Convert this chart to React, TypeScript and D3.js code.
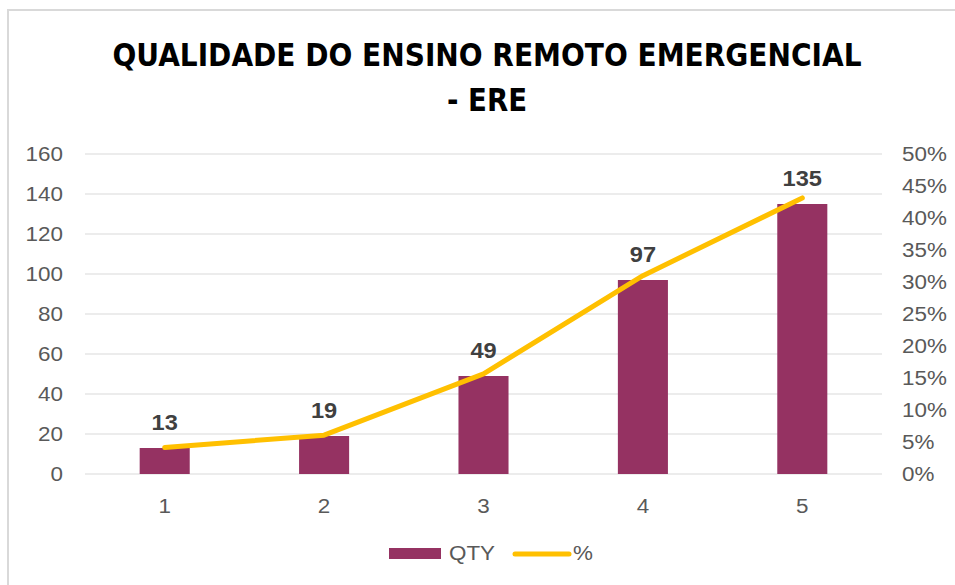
import { useMemo } from "react";
import * as d3 from "d3";

const categories = ["1", "2", "3", "4", "5"];
const qty = [13, 19, 49, 97, 135];
const pct = [0.0415, 0.0607, 0.1565, 0.3099, 0.4313];
const leftTicks = [0, 20, 40, 60, 80, 100, 120, 140, 160];
const rightTicks = [0, 0.05, 0.1, 0.15, 0.2, 0.25, 0.3, 0.35, 0.4, 0.45, 0.5];

const BAR = "#953262";
const LINE = "#FFC000";
const TEXT = "#595959";

// text stretched a bit horizontally, like the original picture
function SText(props: {
  x: number;
  y: number;
  sx?: number;
  anchor?: string;
  size: number;
  weight?: string;
  fill: string;
  children: any;
}) {
  const { x, y, sx = 1.15, anchor = "start", size, weight = "normal", fill, children } = props;
  return (
    <text
      transform={`translate(${x},${y}) scale(${sx},1)`}
      textAnchor={anchor}
      fontSize={size}
      fontWeight={weight}
      fill={fill}
    >
      {children}
    </text>
  );
}

export default function App() {
  const width = 955;
  const height = 585;
  const plot = { left: 85, right: 882, top: 154, bottom: 474 };

  const x = useMemo(
    () => d3.scaleBand().domain(categories).range([plot.left, plot.right]).paddingInner(0.686).paddingOuter(0.343),
    []
  );
  const y = useMemo(() => d3.scaleLinear().domain([0, 160]).range([plot.bottom, plot.top]), []);
  const y2 = useMemo(() => d3.scaleLinear().domain([0, 0.5]).range([plot.bottom, plot.top]), []);

  const cx = (c: string) => (x(c) as number) + x.bandwidth() / 2;

  const line = d3
    .line<number>()
    .x((_, i) => cx(categories[i]))
    .y((d) => y2(d));

  const font = "'Liberation Sans', Arial, sans-serif";
  const titleFont = "'DejaVu Sans Condensed', 'Liberation Sans Narrow', sans-serif";

  return (
    <svg
      width={width}
      height={height}
      style={{ position: "absolute", left: 0, top: 0, background: "#fff" }}
      fontFamily={font}
    >
      <rect x={8} y={10} width={width} height={height} fill="#fff" stroke="#d9d9d9" strokeWidth={2} />

      <text
        x={487}
        y={66}
        textAnchor="middle"
        fontFamily={titleFont}
        fontWeight="bold"
        fontSize={32}
        fill="#000"
        textLength={749}
        lengthAdjust="spacingAndGlyphs"
      >
        QUALIDADE DO ENSINO REMOTO EMERGENCIAL
      </text>
      <text
        x={487}
        y={111}
        textAnchor="middle"
        fontFamily={titleFont}
        fontWeight="bold"
        fontSize={32}
        fill="#000"
        textLength={80}
        lengthAdjust="spacingAndGlyphs"
      >
        - ERE
      </text>

      {/* gridlines */}
      {leftTicks.map((t) => (
        <line key={t} x1={plot.left} x2={plot.right} y1={y(t)} y2={y(t)} stroke="#d9d9d9" strokeWidth={1} />
      ))}

      {/* left axis labels */}
      {leftTicks.map((t) => (
        <SText key={t} x={63} y={y(t) + 7} anchor="end" size={19.5} fill={TEXT}>
          {t}
        </SText>
      ))}

      {/* right axis labels */}
      {rightTicks.map((t) => (
        <SText key={t} x={902} y={y2(t) + 7} size={19.5} fill={TEXT}>
          {d3.format(".0%")(t)}
        </SText>
      ))}

      {/* bars */}
      {qty.map((v, i) => (
        <rect key={i} x={x(categories[i])} y={y(v)} width={x.bandwidth()} height={y(0) - y(v)} fill={BAR} />
      ))}

      {/* data labels */}
      {qty.map((v, i) => (
        <SText key={i} x={cx(categories[i])} y={y(v) - 18} anchor="middle" size={22.5} sx={1.05} weight="bold" fill="#404040">
          {v}
        </SText>
      ))}

      {/* line */}
      <path d={line(pct) ?? ""} fill="none" stroke={LINE} strokeWidth={5} strokeLinecap="round" strokeLinejoin="round" />

      {/* x labels */}
      {categories.map((c) => (
        <SText key={c} x={cx(c)} y={513} anchor="middle" size={19.5} fill={TEXT}>
          {c}
        </SText>
      ))}

      {/* legend */}
      <rect x={389} y={548} width={52} height={11} fill={BAR} />
      <SText x={449} y={560} size={19.5} fill={TEXT}>
        QTY
      </SText>
      <line x1={515} x2={569} y1={554} y2={554} stroke={LINE} strokeWidth={5} strokeLinecap="round" />
      <SText x={573} y={560} size={19.5} fill={TEXT}>
        %
      </SText>
    </svg>
  );
}
